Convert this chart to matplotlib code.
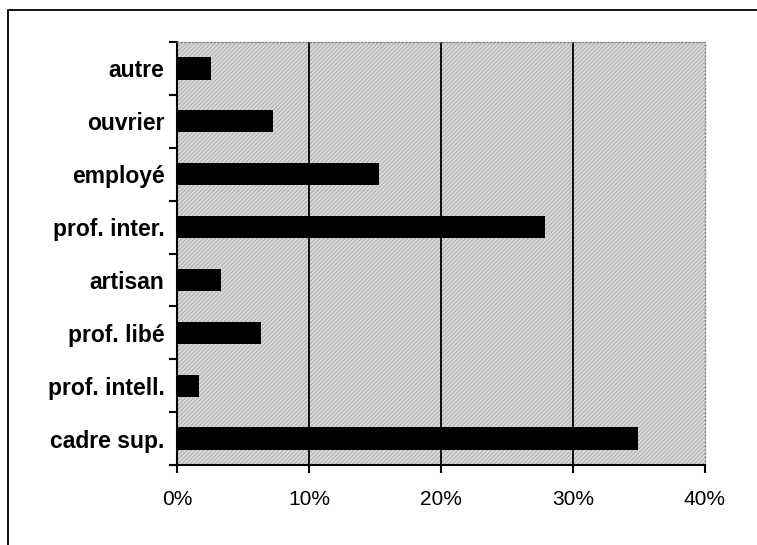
import matplotlib as mpl
import matplotlib.pyplot as plt
from matplotlib.patches import Rectangle
import numpy as np

# categories top -> bottom, share in percent
categories = ['autre', 'ouvrier', 'employé', 'prof. inter.', 'artisan',
              'prof. libé', 'prof. intell.', 'cadre sup.']
values = [2.6, 7.3, 15.3, 27.9, 3.3, 6.4, 1.7, 34.9]
xticks = [0, 10, 20, 30, 40]
xticklabels = ['0%', '10%', '20%', '30%', '40%']

mpl.rcParams['hatch.linewidth'] = 0.5
mpl.rcParams['hatch.color'] = '#a0a0a0'

fig = plt.figure(figsize=(7.57, 5.45), dpi=100)
fig.patch.set_facecolor('white')

# outer frame (runs off right and bottom edge like the scan)
frame = Rectangle((8 / 757, -0.05), 1.2, 1 - 10 / 545 + 0.05,
                  transform=fig.transFigure, fill=False, ec='black', lw=1.3)
fig.add_artist(frame)

ax = fig.add_axes([177 / 757, 1 - 465 / 545, (705 - 177) / 757, (465 - 42) / 545])
ax.set_facecolor('#d8d8d8')
bg = Rectangle((0, 0), 1, 1, transform=ax.transAxes, facecolor='none',
               hatch='////////', edgecolor='#a0a0a0', lw=0, zorder=0)
ax.add_patch(bg)

y = np.arange(len(categories))
ax.barh(y, values, height=0.42, color='black', zorder=3)
ax.set_ylim(len(categories) - 0.5, -0.5)
ax.set_xlim(0, 40)

for xv in xticks[1:-1]:
    ax.axvline(xv, color='black', lw=1.3, zorder=2)

for s in ['top', 'right']:
    ax.spines[s].set_color('#8a8a8a')
    ax.spines[s].set_linestyle(':')
    ax.spines[s].set_linewidth(1)
for s in ['left', 'bottom']:
    ax.spines[s].set_color('black')
    ax.spines[s].set_linewidth(1.5)

ax.set_yticks(y)
ax.set_yticklabels(categories, fontsize=16.5, fontweight='bold', family='Liberation Sans')
ax.set_yticks(np.arange(-0.5, len(categories) + 0.5, 1), minor=True)
ax.tick_params(axis='y', which='major', length=0, pad=9)
ax.tick_params(axis='y', which='minor', length=6, width=1.5, direction='out')

ax.set_xticks(xticks)
ax.set_xticklabels(xticklabels, fontsize=15, family='Liberation Sans')
ax.tick_params(axis='x', length=6, width=1.5, direction='out', pad=12)

fig.savefig('out.png', dpi=100)
